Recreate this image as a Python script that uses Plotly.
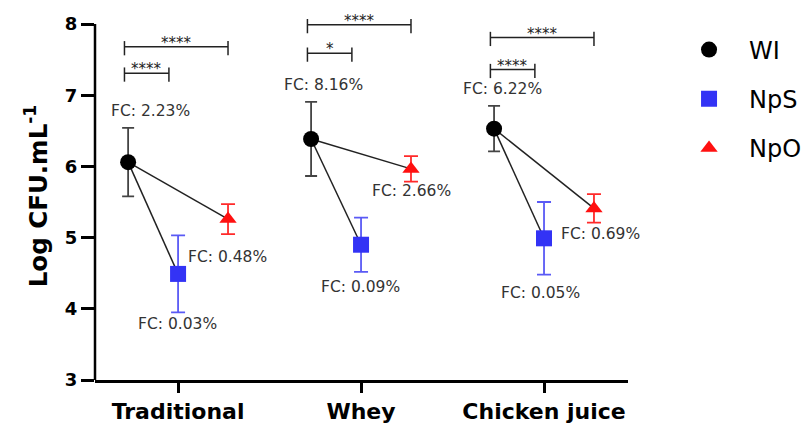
import plotly.graph_objects as go

# ---------------- data ----------------
categories = ["Traditional", "Whey", "Chicken juice"]
series_names = ["WI", "NpS", "NpO"]
wi_mean = [6.06, 6.385, 6.53]
wi_err = [0.48, 0.52, 0.32]
nps_mean = [4.49, 4.90, 4.99]
nps_err = [0.54, 0.38, 0.51]
npo_mean = [5.26, 5.965, 5.41]
npo_err = [0.21, 0.18, 0.20]
wi_fc = ["FC: 2.23%", "FC: 8.16%", "FC: 6.22%"]
nps_fc = ["FC: 0.03%", "FC: 0.09%", "FC: 0.05%"]
npo_fc = ["FC: 0.48%", "FC: 2.66%", "FC: 0.69%"]
sig_wi_nps = ["****", "*", "****"]
sig_wi_npo = ["****", "****", "****"]
y_ticks = [3, 4, 5, 6, 7, 8]

# ---------------- layout / style ----------------
FONT = "DejaVu Sans"
offsets = {"WI": -0.273, "NpS": 0.0, "NpO": 0.273}
colors = {"WI": "black", "NpS": "#3333f5", "NpO": "#ff1010"}
err_colors = {"WI": "#444444", "NpS": "#5a5af5", "NpO": "#ff2a2a"}
symbols = {"WI": "circle", "NpS": "square", "NpO": "triangle-up"}
msizes = {"WI": 16, "NpS": 16, "NpO": 15}
capw = {"WI": 6, "NpS": 7, "NpO": 7}
# pixel shifts of FC labels relative to their point
fc_shift = {
    "WI": [(22, 51), (12, 54), (8, 40)],
    "NpS": [(-1, -50), (-1, -42), (-4, -55)],
    "NpO": [(-1, -38), (1, -22), (7, -26)],
}
# bracket levels (y) for WI-NpS and WI-NpO comparisons
lvl_low = [7.31, 7.59, 7.36]
lvl_high = [7.68, 7.99, 7.81]

means = {"WI": wi_mean, "NpS": nps_mean, "NpO": npo_mean}
errs = {"WI": wi_err, "NpS": nps_err, "NpO": npo_err}
fcs = {"WI": wi_fc, "NpS": nps_fc, "NpO": npo_fc}

def xs(name):
    return [i + offsets[name] for i in range(len(categories))]

fig = go.Figure()

# connecting lines WI -> NpS and WI -> NpO
lx, ly = [], []
for i in range(len(categories)):
    for other in ("NpS", "NpO"):
        lx += [xs("WI")[i], xs(other)[i], None]
        ly += [wi_mean[i], means[other][i], None]
fig.add_trace(go.Scatter(x=lx, y=ly, mode="lines", line=dict(color="#222222", width=1.5),
                         showlegend=False, hoverinfo="skip"))

for k, name in enumerate(series_names):
    fig.add_trace(go.Scatter(
        x=xs(name), y=means[name], mode="markers", name=name,
        legendgroup=name,
        marker=dict(symbol=symbols[name], size=msizes[name], color=colors[name],
                    line=dict(width=0)),
        error_y=dict(type="data", array=errs[name], visible=True,
                     color=err_colors[name], thickness=1.8, width=capw[name]),
        cliponaxis=False,
    ))

annotations = []
shapes = []
for name in series_names:
    for i, txt in enumerate(fcs[name]):
        dx, dy = fc_shift[name][i]
        annotations.append(dict(x=xs(name)[i], y=means[name][i], text=txt, showarrow=False,
                                xshift=dx, yshift=dy, xanchor="center", yanchor="middle",
                                font=dict(family=FONT, size=15.5, color="#333333")))

def bracket(x0, x1, y, label):
    shapes.append(dict(type="line", xref="x", yref="y", x0=x0, x1=x1, y0=y, y1=y,
                       line=dict(color="#222222", width=1.5)))
    for xx in (x0, x1):
        shapes.append(dict(type="line", xref="x", yref="y", x0=xx, x1=xx, y0=y + 0.08, y1=y - 0.12,
                           line=dict(color="#222222", width=1.5)))
    annotations.append(dict(x=(x0 + x1) / 2, y=y, text=label, showarrow=False, yanchor="middle",
                            yshift=4, font=dict(family=FONT, size=15, color="#222222")))

for i in range(len(categories)):
    bracket(xs("WI")[i] - 0.02, xs("NpS")[i] - 0.05, lvl_low[i], sig_wi_nps[i])
    bracket(xs("WI")[i] - 0.02, xs("NpO")[i], lvl_high[i], sig_wi_npo[i])

# y axis line (stops at 8)
shapes.append(dict(type="line", xref="paper", yref="y", x0=0, x1=0, y0=3, y1=8,
                   line=dict(color="black", width=2.5)))

fig.update_layout(
    width=809, height=427,
    margin=dict(l=87, r=189, t=4, b=55, autoexpand=False),
    paper_bgcolor="white", plot_bgcolor="white",
    font=dict(family=FONT, color="black"),
    showlegend=True,
    legend=dict(x=1.077, y=0.958, xanchor="left", yanchor="top",
                font=dict(family=FONT, size=24, color="black"),
                tracegroupgap=15, itemwidth=70, bgcolor="rgba(0,0,0,0)"),
    xaxis=dict(range=[-0.454, 2.459], tickmode="array", tickvals=list(range(len(categories))),
               ticktext=[f"<b>{c}</b>" for c in categories], showline=True, linecolor="black",
               linewidth=2.5, ticks="outside", ticklen=10, tickwidth=2.5, tickcolor="black",
               showgrid=False, zeroline=False, automargin=False,
               tickfont=dict(family=FONT, size=22, color="black")),
    yaxis=dict(range=[3, 8 + 12 / 71.2], tickmode="array", tickvals=y_ticks,
               ticktext=[f"<b>{t}</b>" for t in y_ticks], showline=False,
               ticks="outside", ticklen=13, tickwidth=2.5, tickcolor="black",
               showgrid=False, zeroline=False, automargin=False,
               tickfont=dict(family=FONT, size=18, color="black"),
               title=dict(text="<b>Log CFU.mL<sup>-1</sup></b>", standoff=10,
                          font=dict(family=FONT, size=24.5, color="black"))),
    annotations=annotations,
    shapes=shapes,
)

fig.write_html("out.html")
